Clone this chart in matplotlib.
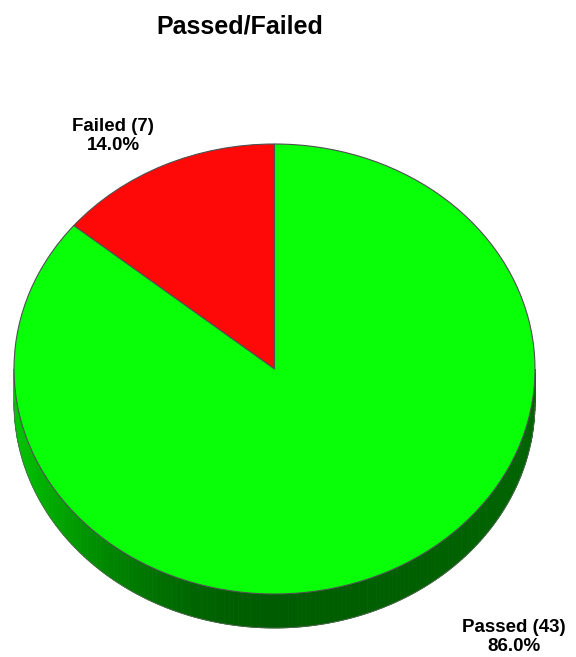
import numpy as np
import matplotlib.pyplot as plt
from matplotlib.patches import Wedge, Polygon

plt.rcParams['font.family'] = ['Liberation Sans', 'DejaVu Sans']

# data
labels = ['Failed', 'Passed']
counts = [7, 43]
colors = ['#ff0808', '#08ff08']
title = 'Passed/Failed'

total = sum(counts)
fracs = [c / total for c in counts]

W, H = 576, 657
fig = plt.figure(figsize=(W / 100, H / 100), dpi=100)

# pie axes spans the ellipse bounding box (pixels)
x0, x1 = 14, 535
y0, y1 = 144, 594
ax = fig.add_axes([x0 / W, 1 - y1 / H, (x1 - x0) / W, (y1 - y0) / H])
ax.set_xlim(-1, 1)
ax.set_ylim(-1, 1)
ax.axis('off')

depth = 34 / ((y1 - y0) / 2)  # side thickness in data units

# side (visible lower half), shaded strips
ts = np.linspace(np.pi, 2 * np.pi, 181)
for a, b in zip(ts[:-1], ts[1:]):
    m = (a + b) / 2
    # lighter on the left, darker toward the lower right
    s = 0.36 + 0.42 * np.clip(-np.cos(m), 0, 1) ** 2 + 0.03 * np.clip(np.cos(m), 0, 1)
    g = min(s, 1)
    xs = [np.cos(a), np.cos(b), np.cos(b), np.cos(a)]
    ys = [np.sin(a), np.sin(b), np.sin(b) - depth, np.sin(a) - depth]
    ax.add_patch(Polygon(list(zip(xs, ys)), closed=True, facecolor=(0, g, 0),
                         edgecolor=(0, g, 0), lw=0.6, clip_on=False))
# outline of side bottom
tb = np.linspace(np.pi, 2 * np.pi, 200)
ax.plot(np.cos(tb), np.sin(tb) - depth, color='#556655', lw=0.6, clip_on=False)

# top wedges, counterclockwise from 90 deg
start = 90.0
for f, c in zip(fracs, colors):
    end = start + f * 360
    ax.add_patch(Wedge((0, 0), 1, start, end, facecolor=c, edgecolor='#505050',
                       lw=0.8, clip_on=False))
    start = end

# labels
lab_pos = [(113, 136), (514, 637)]
for name, c, f, (px, py) in zip(labels, counts, fracs, lab_pos):
    fig.text(px / W, 1 - py / H, f'{name} ({c})\n{f * 100:.1f}%', ha='center',
             va='center', fontsize=13.5, fontweight='bold', linespacing=1.22)

fig.text(240 / W, 1 - 26 / H, title, ha='center', va='center', fontsize=18,
         fontweight='bold')

fig.savefig('out.png', dpi=100, facecolor='white')
